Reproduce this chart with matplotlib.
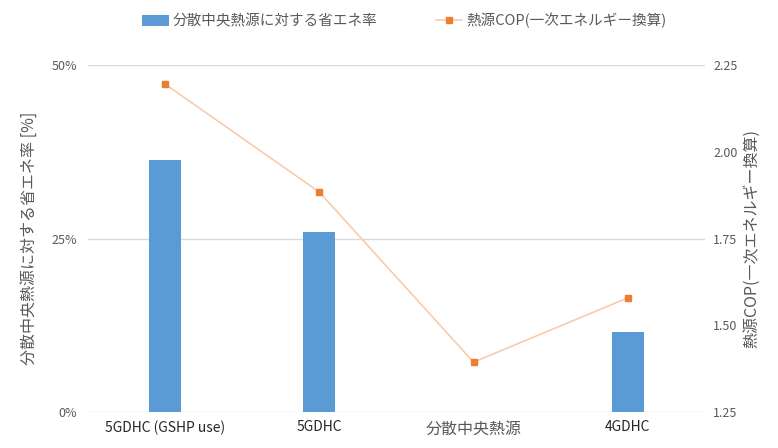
import matplotlib
matplotlib.use('Agg')
import matplotlib.pyplot as plt
from matplotlib.ticker import FuncFormatter
import numpy as np

plt.rcParams['font.family'] = ['Noto Sans CJK JP', 'DejaVu Sans']

categories = ['5GDHC (GSHP use)', '5GDHC', '分散中央熱源', '4GDHC']
saving_rate = [36.3, 25.9, np.nan, 11.5]   # 省エネ率 [%]
cop_primary = [2.195, 1.884, 1.394, 1.579]  # 一次エネルギー換算COP

bar_label = '分散中央熱源に対する省エネ率'
line_label = '熱源COP(一次エネルギー換算)'
left_ylabel = '分散中央熱源に対する省エネ率 [%]'
right_ylabel = '熱源COP(一次エネルギー換算)'

text_color = '#595959'
blue = '#5B9BD5'
orange = '#ED7D31'

fig = plt.figure(figsize=(7.78, 4.48), dpi=100)
ax = fig.add_axes([0.113, 0.08, 0.793, 0.775])
ax2 = ax.twinx()

x = np.arange(len(categories))
ax.bar(x, saving_rate, width=0.21, color=blue, label=bar_label, zorder=2)
ax.set_ylim(0, 50)
ax.set_yticks([0, 25, 50])
ax.yaxis.set_major_formatter(FuncFormatter(lambda v, p: f'{int(v)}%'))
ax.set_xlim(-0.5, len(categories) - 0.5)
ax.set_xticks(x)
ax.set_xticklabels(categories)
ax.grid(axis='y', color='#D9D9D9', linewidth=1, zorder=0)
ax.set_ylabel(left_ylabel, color=text_color, fontsize=11.5, labelpad=10)

ax2.plot(x, cop_primary, color='#F8CBAD', linewidth=1.2, marker='s',
         markersize=5, markerfacecolor=orange, markeredgecolor=orange,
         label=line_label, zorder=3)
ax2.set_ylim(1.25, 2.25)
ax2.set_yticks([1.25, 1.50, 1.75, 2.00, 2.25])
ax2.yaxis.set_major_formatter(FuncFormatter(lambda v, p: f'{v:.2f}'))
ax2.set_ylabel(right_ylabel, color=text_color, fontsize=11.5, rotation=90, labelpad=4)

for a in (ax, ax2):
    for s in a.spines.values():
        s.set_visible(False)
    a.tick_params(length=0, colors=text_color, labelsize=9)
ax.tick_params(axis='x', labelsize=10, pad=6, colors='#262626')
ax.tick_params(axis='y', pad=8)
ax2.tick_params(axis='y', pad=6)
for t in ax.get_xticklabels():
    if not t.get_text().isascii():
        t.set_fontsize(11.5)
        t.set_color(text_color)

h1, l1 = ax.get_legend_handles_labels()
h2, l2 = ax2.get_legend_handles_labels()
leg = fig.legend(h1 + h2, l1 + l2, loc='upper center', bbox_to_anchor=(0.52, 1.0),
                 ncol=2, frameon=False, fontsize=10.5, columnspacing=4.0,
                 handlelength=1.8, handletextpad=0.3)
for t in leg.get_texts():
    t.set_color(text_color)

fig.savefig('out.png', dpi=100)
